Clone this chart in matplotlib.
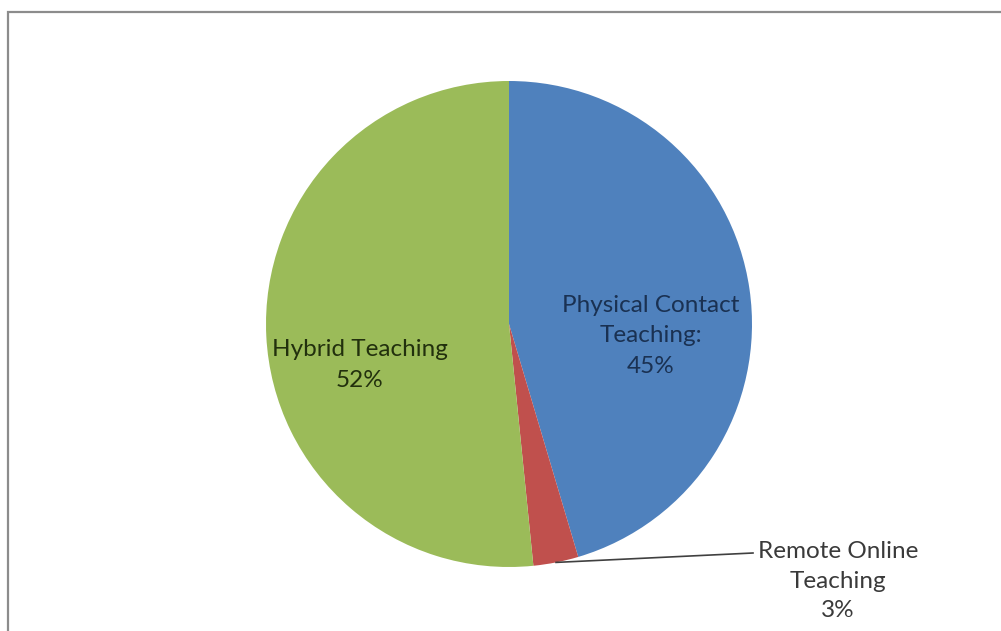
import matplotlib
matplotlib.use('Agg')
import matplotlib.pyplot as plt
import numpy as np

labels = ['Physical Contact\nTeaching:', 'Remote Online\nTeaching', 'Hybrid Teaching']
shares = [45.4, 3.0, 51.6]
pct_labels = ['45%', '3%', '52%']
colors = ['#4F81BD', '#C0504D', '#9BBB59']
text_colors = ['#1A3152', '#3a3a3a', '#22300D']

W, H = 1001, 631
plt.rcParams['font.family'] = ['Lato', 'DejaVu Sans']

fig = plt.figure(figsize=(W / 100, H / 100), dpi=100)
ax = fig.add_axes([0, 0, 1, 1])

# pie in pixel coords (y measured from bottom)
cx, cy, r = 509, H - 324, 243
wedges, _ = ax.pie(shares, colors=colors, startangle=90, counterclock=False,
                   center=(cx, cy), radius=r, frame=True,
                   wedgeprops=dict(linewidth=0))
ax.set_xlim(0, W)
ax.set_ylim(0, H)
ax.set_aspect('equal')
ax.axis('off')

# chart frame (only left and top edges visible in the crop)
ax.plot([7.5, 7.5, W], [0, H - 12, H - 12], color='#8c8c8c', lw=1.6,
        solid_joinstyle='miter', clip_on=False)

fs = 17.5
ax.text(651, H - 336, labels[0] + '\n' + pct_labels[0], ha='center', va='center',
        fontsize=fs, color=text_colors[0], linespacing=1.55)
ax.text(360, H - 365, labels[2] + '\n' + pct_labels[2], ha='center', va='center',
        fontsize=fs, color=text_colors[2], linespacing=1.6)
ax.text(838, H - 581, labels[1] + '\n' + pct_labels[1], ha='center', va='center',
        fontsize=fs, color=text_colors[1], linespacing=1.5)

# leader line for the small slice
w = wedges[1]
mid = np.deg2rad((w.theta1 + w.theta2) / 2)
px, py = cx + r * np.cos(mid), cy + r * np.sin(mid)
ax.plot([px, 753], [py, H - 553], color='#404040', lw=1.2)

fig.savefig('out.png', dpi=100)
